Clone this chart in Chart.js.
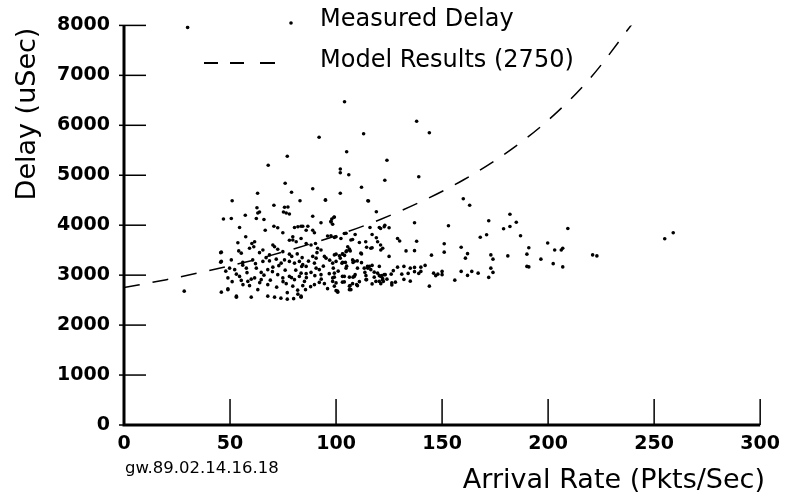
<!DOCTYPE html>
<html>
<head>
<meta charset="utf-8">
<script src="https://cdn.jsdelivr.net/npm/chart.js@4.4.1/dist/chart.umd.min.js"></script>
<style>
  html, body { margin: 0; padding: 0; background: #fff; }
  #wrap { width: 788px; height: 496px; position: relative; }
</style>
</head>
<body>
<div id="wrap"><canvas id="delayChart"></canvas></div>
<script>
// measured points: arrival rate (pkts/sec) and delay (usec)
const rateX = [
  104,92,113,105,77,68,102,102,106,76,63,79,89,102,112,51,83,95,115,
  138,144,124,139,123,160,163,119,182,172,179,182,185,187,137,153,171,168,138,151,159,151,161,162,173,174,181,190,190,173,174,167,159,162,164,156,172,144,145,133,137,129,130,125,123,121,116,117,119,121,122,125,
  132,135,137,140,142,129,134,137,139,140,132,
  146,147,148,150,150,
  98,99,97.6,104.7,100,97.6,
  107,109,111,114,117,114.4,
  105.5,106.3,105,106.7,
  100,103,104,102,
  112,110,108,104.4,100,102.8,98.7,99.2,
  115.7,117,113.3,115,113.6,
  119.6,120.4,121.6,123.2,122,120.4,122.3,126.3,126.3,126,117,114.4,
  98.4,100,103.9,106.6,107,109.7,106.3,108,103,
  100,100.8,
  70.7,62.7,63.9,63.1,75.2,76.5,77.3,75.7,78,
  46.9,50.6,57.2,62.4,66,
  54.5,70.7,72.5,66.6,74.9,80.4,82,84.3,
  57.4,61.6,60.3,59.2,61.2,53.7,
  79.6,79.6,78,81.2,
  71,70.2,72.5,74.9,
  65.5,63.9,68.6,
  45.6,54.1,55.3,
  45.9,50.6,56,60.7,65.5,68.6,
  71.8,74.1,75.7,78,80.4,82.7,83.8,79.1,81.7,
  49.8,52.2,57.7,62.4,64.7,67.8,70.2,
  49,54.5,55.3,58.4,56.1,59.2,61.6,64.7,67.8,63.1,
  72.5,74.9,78,80.4,82.7,76.5,79.6,81.9,84.3,
  45.9,49,53,60,67.8,71,74,77,80,83.5,
  95,115.3,
  89,92.9,97.6,99.2,98.4,
  83.5,85.9,89,89.8,86.7,
  96,99.2,102.3,103.9,107.8,120.4,122.7,
  83.5,85.9,88.2,90.3,91.3,92.9,
  106.3,104.7,111.7,116.4,119.6,121.1,
  89,90.6,94.5,95.3,99.2,101.6,103.1,107.8,108.6,
  84.3,85.9,89.8,90.6,92.1,98.4,103.1,104.7,110.1,114.8,116.4,120.4,
  83.5,85.9,88.2,92.9,96.8,99.2,103.9,108.6,114.1,118,121.1,122.7,
  85.1,89.8,92.1,94.5,98.4,99.2,106.3,107.8,110.1,114.1,118.8,121.1,121.9,
  85.6,83.5,100.7,106.3,
  209.3,199.8,190.9,203.1,206.2,206.9,196.6,202.4,190.9,206.9,221,223,255,259,
  28.4,49,45.9,45.6,53,30,
  48,51,53,56,58,60,62,64,66,67,69,70,72,73,75,76,77,78,79,81,82,84,86,87,88,90,91,93,94,96,97,
  101,103,105,109,111,112,118,124,127,131,135,128
];
const delayY = [
  6470,5760,5830,5470,5380,5200,5125,5050,5010,4840,4640,4660,4730,4640,4760,4490,4490,4510,4490,
  6080,5850,5300,4970,4900,4530,4400,4270,4220,4090,3930,3975,4060,3790,4050,3990,3810,3760,3680,3630,3560,3460,3340,3430,3405,3320,3385,3420,3175,3140,3055,3040,3075,2995,3075,2900,2955,2780,3400,3485,3490,3735,3685,3950,4000,3935,3955,3815,3750,3605,3540,3375,
  3175,3140,3155,3160,3195,3160,3035,3070,3035,3075,2915,
  3040,2990,3020,3075,3010,
  4125,4160,4080,3840,3770,3790,
  3705,3815,3655,3670,3550,3560,
  3570,3525,3485,3485,
  3420,3420,3395,3340,
  3425,3285,3255,3255,3275,3240,3140,3040,
  3175,3195,3140,3140,3055,
  3040,2990,2990,3010,2930,2875,2875,2845,2805,3020,2825,2910,
  2945,2845,2865,2790,2710,2810,2960,2960,2975,
  2690,2660,
  4400,4350,4265,4245,4265,4245,4365,4360,4225,
  4125,4135,4200,4135,4115,
  3955,3980,3950,3900,3850,3955,3970,3980,
  3770,3670,3635,3540,3570,3650,
  3770,3705,3700,3670,
  3570,3605,3520,3470,
  3505,3450,3405,
  3450,3485,3440,
  3275,3305,3255,3305,3275,3285,
  3320,3240,3305,3275,3240,3275,3175,3375,3425,
  3140,3110,3140,3140,3055,3110,3160,
  2945,2975,2895,2875,2810,2790,2945,2910,2810,2710,
  3010,2945,2975,2910,2975,2830,2780,2700,2790,
  2660,2725,2580,2560,2580,2560,2540,2520,2530,2560,
  4500,4485,
  4180,4050,4065,4165,4020,
  3980,3900,3900,3850,3980,
  3785,3755,3735,3835,3715,3955,3970,
  3735,3635,3605,3635,3540,3505,
  3505,3470,3440,3540,3670,3505,
  3375,3340,3375,3340,3405,3385,3425,3305,3275,
  3210,3175,3240,3140,3110,3240,3255,3140,3140,3175,3110,3175,
  3040,3030,3055,3010,3030,2960,2975,2975,2990,2960,2975,3010,
  2875,2810,2855,2830,2875,2780,2780,2830,2790,2910,2875,2830,2910,
  2710,2580,2680,2710,
  3935,3645,3550,3505,3505,3540,3320,3230,3165,3165,3405,3385,3730,3850,
  2680,2710,3460,3260,2560,7960,
  3080,2870,3020,3200,3050,2920,3230,2850,3000,3350,2900,3070,2760,3190,2870,3100,2650,3420,2950,3100,2620,3350,2950,3280,2770,2990,3450,2920,3180,2730,3300,
  3080,2860,3180,3010,2870,3250,3060,2920,3090,3020,2880,2860
];
// model curve
const modelX = [0, 20, 40, 60, 80, 100, 120, 140, 160, 180, 200, 220, 240];
const modelY = [2750, 2910, 3090, 3290, 3525, 3790, 4100, 4470, 4905, 5440, 6100, 6950, 8050];
const xTicks = [0, 50, 100, 150, 200, 250, 300];
const yTicks = [0, 1000, 2000, 3000, 4000, 5000, 6000, 7000, 8000];

const FONT = '"DejaVu Sans", sans-serif';

const measured = rateX.map((x, i) => ({ x, y: delayY[i] }));
const model = modelX.map((x, i) => ({ x, y: modelY[i] }));

// axes, inward ticks, titles and the legend are drawn by hand
const framePlugin = {
  id: 'frame',
  afterDraw(chart) {
    const { ctx, chartArea: a, scales: { x, y } } = chart;
    ctx.save();
    ctx.setLineDash([]);
    ctx.strokeStyle = '#000';
    ctx.lineCap = 'butt';
    ctx.lineWidth = 1.5;
    yTicks.forEach(v => {
      const py = y.getPixelForValue(v);
      ctx.beginPath(); ctx.moveTo(a.left - 5, py); ctx.lineTo(a.left + 22, py); ctx.stroke();
    });
    xTicks.forEach(v => {
      const px = x.getPixelForValue(v);
      ctx.beginPath(); ctx.moveTo(px, a.bottom); ctx.lineTo(px, a.bottom - 26); ctx.stroke();
    });
    ctx.lineWidth = 3;
    ctx.beginPath();
    ctx.moveTo(a.left, y.getPixelForValue(8000));
    ctx.lineTo(a.left, a.bottom);
    ctx.lineTo(x.getPixelForValue(300), a.bottom);
    ctx.stroke();

    ctx.fillStyle = '#000';
    ctx.textBaseline = 'middle';
    // legend
    ctx.font = '24px ' + FONT;
    ctx.textAlign = 'left';
    ctx.fillText('Measured Delay', 320, 20);
    ctx.fillText('Model Results (2750)', 320, 61);
    ctx.beginPath(); ctx.arc(291, 23, 1.8, 0, Math.PI * 2); ctx.fill();
    ctx.fillRect(204, 62, 14, 2);
    ctx.fillRect(230, 62, 14, 2);
    ctx.fillRect(260, 62, 15, 2);

    // titles
    ctx.font = '27px ' + FONT;
    ctx.textAlign = 'right';
    ctx.fillText('Arrival Rate (Pkts/Sec)', 765, 481);
    ctx.font = '16.5px ' + FONT;
    ctx.textAlign = 'left';
    ctx.fillText('gw.89.02.14.16.18', 125, 469);
    ctx.save();
    ctx.translate(28, 114);
    ctx.rotate(-Math.PI / 2);
    ctx.font = '27px ' + FONT;
    ctx.textAlign = 'center';
    ctx.fillText('Delay (uSec)', 0, 0);
    ctx.restore();
    ctx.restore();
  }
};

new Chart(document.getElementById('delayChart').getContext('2d'), {
  type: 'scatter',
  data: {
    datasets: [
      { label: 'Measured Delay', data: measured, pointRadius: 1.8, pointHoverRadius: 1.8, backgroundColor: '#000', borderWidth: 0 },
      { label: 'Model Results (2750)', data: model, showLine: true, pointRadius: 0, borderColor: '#000', borderWidth: 1.5, borderDash: [16, 13], tension: 0.4, cubicInterpolationMode: 'monotone' }
    ]
  },
  options: {
    responsive: true,
    maintainAspectRatio: false,
    animation: false,
    events: [],
    layout: { padding: { top: 22, right: 26, left: 0, bottom: 0 } },
    plugins: { legend: { display: false }, tooltip: { enabled: false } },
    scales: {
      x: {
        type: 'linear', min: 0, max: 300,
        afterBuildTicks: s => { s.ticks = xTicks.map(v => ({ value: v })); },
        afterFit: s => { s.height = 71; },
        grid: { display: false, drawTicks: false },
        border: { display: false },
        ticks: { color: '#000', padding: 8, maxRotation: 0, callback: v => String(v), font: { family: FONT, size: 19, weight: 'bold' } }
      },
      y: {
        min: 0, max: 8000,
        afterBuildTicks: s => { s.ticks = yTicks.map(v => ({ value: v })); },
        afterFit: s => { s.width = 124; },
        grid: { display: false, drawTicks: false },
        border: { display: false },
        ticks: { color: '#000', padding: 14, callback: v => String(v), font: { family: FONT, size: 19, weight: 'bold' } }
      }
    }
  },
  plugins: [framePlugin]
});
</script>
</body>
</html>
